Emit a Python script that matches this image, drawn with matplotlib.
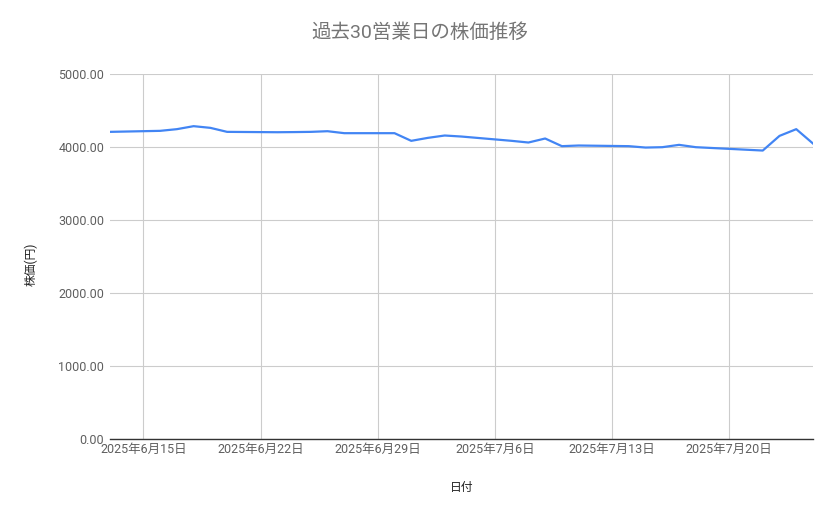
import matplotlib
matplotlib.use("Agg")
import matplotlib.pyplot as plt
import numpy as np
import datetime as dt

plt.rcParams["font.family"] = ["Roboto", "Noto Sans CJK JP", "DejaVu Sans"]

# 営業日（7/21 海の日は休場）
dates = [
    "2025-06-13",
    "2025-06-16", "2025-06-17", "2025-06-18", "2025-06-19", "2025-06-20",
    "2025-06-23", "2025-06-24", "2025-06-25", "2025-06-26", "2025-06-27",
    "2025-06-30", "2025-07-01", "2025-07-02", "2025-07-03", "2025-07-04",
    "2025-07-07", "2025-07-08", "2025-07-09", "2025-07-10", "2025-07-11",
    "2025-07-14", "2025-07-15", "2025-07-16", "2025-07-17", "2025-07-18",
    "2025-07-22", "2025-07-23", "2025-07-24", "2025-07-25",
]
prices = [
    4210,
    4224, 4247, 4288, 4265, 4210,
    4205, 4207, 4210, 4219, 4192,
    4192, 4087, 4128, 4160, 4146,
    4087, 4064, 4119, 4014, 4023,
    4014, 3995, 4000, 4032, 4000,
    3954, 4155, 4247, 4050,
]
tick_dates = ["2025-06-15", "2025-06-22", "2025-06-29", "2025-07-06", "2025-07-13", "2025-07-20"]

x = [dt.datetime.strptime(d, "%Y-%m-%d") for d in dates]
ticks = [dt.datetime.strptime(d, "%Y-%m-%d") for d in tick_dates]

fig = plt.figure(figsize=(8.39, 5.19), dpi=100)
ax = fig.add_axes([0.131, 0.154, 0.838, 0.703])

ax.plot(x, prices, color="#4285F4", linewidth=1.6)

ax.set_xlim(x[0], x[-1])
ax.set_ylim(0, 5000)
ax.set_yticks(np.arange(0, 5001, 1000))
ax.yaxis.set_major_formatter(matplotlib.ticker.FuncFormatter(lambda v, p: f"{v:.2f}"))
ax.set_xticks(ticks)
ax.set_xticklabels([f"{t.year}年{t.month}月{t.day}日" for t in ticks])

ax.grid(True, color="#cccccc", linewidth=0.8)
ax.set_axisbelow(True)
for s in ["top", "right", "left"]:
    ax.spines[s].set_visible(False)
ax.spines["bottom"].set_color("#333333")
ax.spines["bottom"].set_linewidth(1.0)
ax.tick_params(axis="both", length=0, labelsize=9, colors="#5f5f5f", pad=4)
ax.tick_params(axis="x", pad=3)

ax.set_xlabel("日付", fontsize=8.5, color="#222222", labelpad=18)
ax.set_ylabel("株価(円)", fontsize=8.5, color="#222222")
ax.yaxis.set_label_coords(-0.103, 0.48)
fig.suptitle("過去30営業日の株価推移", x=0.5, y=0.955, fontsize=14, color="#757575")

fig.savefig("out.png", dpi=100)
